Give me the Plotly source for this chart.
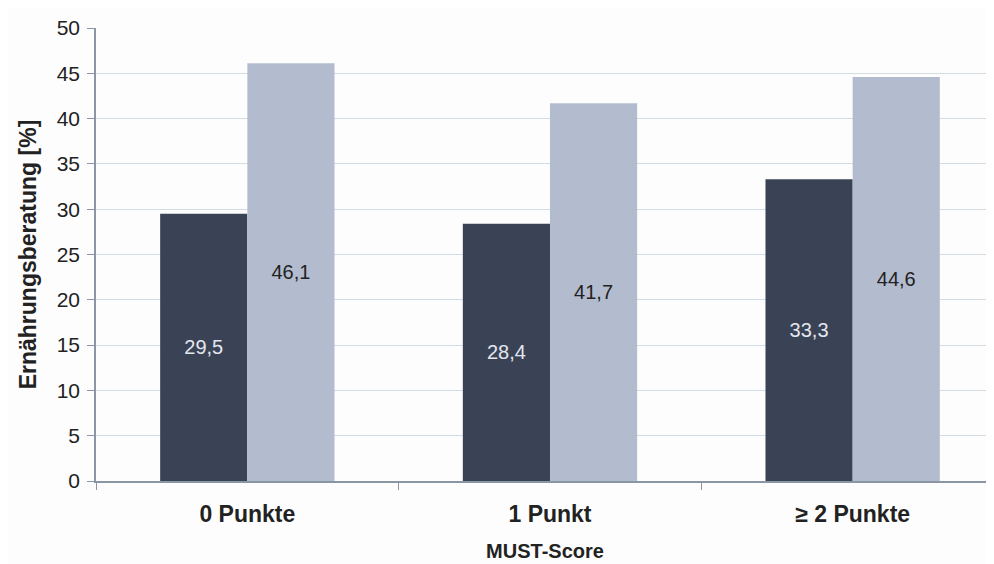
import plotly.graph_objects as go

categories = ["0 Punkte", "1 Punkt", "≥ 2 Punkte"]
series_a = [29.5, 28.4, 33.3]
series_b = [46.1, 41.7, 44.6]
y_ticks = [0, 5, 10, 15, 20, 25, 30, 35, 40, 45, 50]

def fmt(v):
    return f"{v:.1f}".replace(".", ",")

FONT = "Liberation Sans, Arial"

fig = go.Figure()
fig.add_trace(go.Bar(
    x=categories, y=series_a, marker_color="#3a4356",
    text=[fmt(v) for v in series_a], textposition="inside", insidetextanchor="middle",
    textfont=dict(color="#e4e6ee", size=20, family=FONT),
    marker_line_width=0,
))
fig.add_trace(go.Bar(
    x=categories, y=series_b, marker_color="#b3bccf",
    text=[fmt(v) for v in series_b], textposition="inside", insidetextanchor="middle",
    textfont=dict(color="#222222", size=20, family=FONT),
    marker_line_width=0,
))

fig.update_layout(
    width=994, height=564,
    barmode="group", bargap=0.424, bargroupgap=0,
    showlegend=False,
    paper_bgcolor="#fdfdfd", plot_bgcolor="#fdfdfd",
    margin=dict(l=88, r=8, t=15, b=91),
    font=dict(family=FONT, color="#222222"),
)
fig.update_xaxes(
    type="category", range=[-0.5, 2.467],
    tickson="boundaries", ticks="outside", ticklen=7, tickcolor="#8a96a6",
    showline=True, linecolor="#8a96a6", linewidth=1.5,
    tickfont=dict(size=23, family=FONT, weight="bold"),
    ticklabelstandoff=12,
    title=dict(text="<b>MUST-Score</b>", font=dict(size=20), standoff=18),
    showgrid=False,
)
fig.update_yaxes(
    range=[0, 50], tickvals=y_ticks, ticks="outside", ticklen=7, tickcolor="#8a96a6",
    showline=True, linecolor="#8a96a6", linewidth=1.5,
    gridcolor="#d3dbe3", gridwidth=1,
    tickfont=dict(size=21, family=FONT),
    ticklabelstandoff=3,
    title=dict(text="<b>Ernährungsberatung [%]</b>", font=dict(size=23), standoff=14),
    zeroline=False,
)

fig.write_html("out.html")
